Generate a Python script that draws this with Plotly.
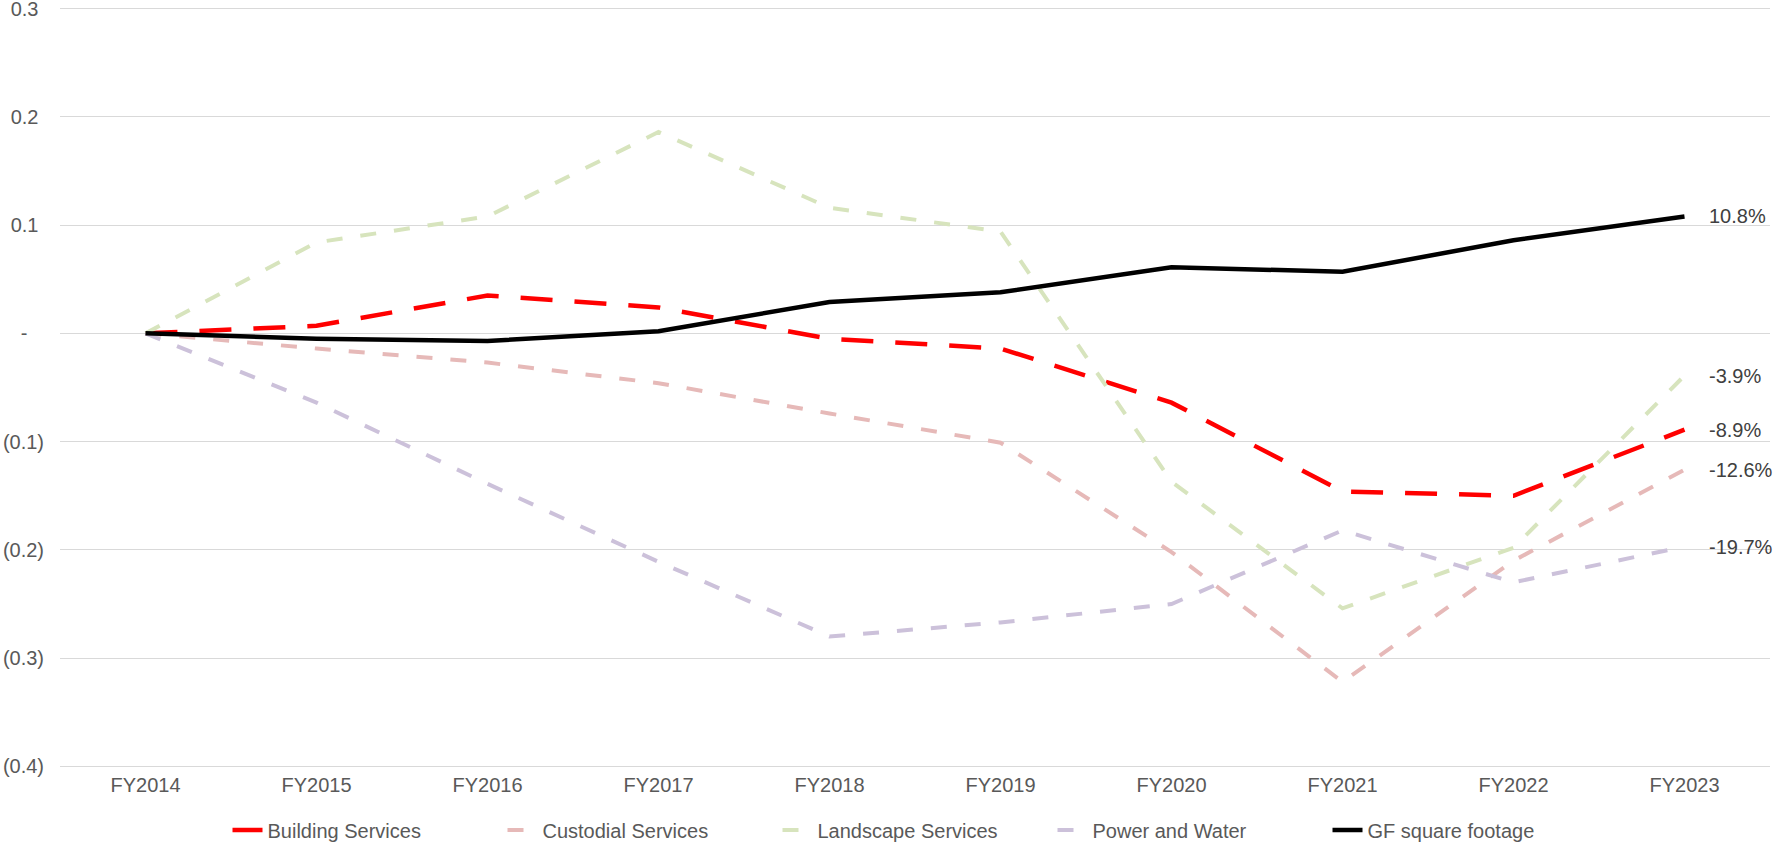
import plotly.graph_objects as go

years = ["FY2014", "FY2015", "FY2016", "FY2017", "FY2018",
         "FY2019", "FY2020", "FY2021", "FY2022", "FY2023"]

building = [0, 0.007, 0.035, 0.024, -0.005, -0.014, -0.064, -0.146, -0.150, -0.089]
custodial = [0, -0.014, -0.027, -0.046, -0.074, -0.101, -0.202, -0.322, -0.210, -0.126]
landscape = [0, 0.084, 0.108, 0.186, 0.116, 0.094, -0.137, -0.254, -0.198, -0.039]
power = [0, -0.064, -0.139, -0.211, -0.280, -0.267, -0.250, -0.182, -0.230, -0.197]
gf_sqft = [0, -0.005, -0.007, 0.002, 0.029, 0.038, 0.061, 0.057, 0.086, 0.108]

ytick_vals = [0.3, 0.2, 0.1, 0, -0.1, -0.2, -0.3, -0.4]
ytick_text = ["0.3", "0.2", "0.1", "-", "(0.1)", "(0.2)", "(0.3)", "(0.4)"]

series = [
    ("Building Services", building, "#FF0000", 4.5, "32px,22px"),
    ("Custodial Services", custodial, "#E6B9B8", 4, "16px,18px"),
    ("Landscape Services", landscape, "#D7E4BD", 4, "16px,18px"),
    ("Power and Water", power, "#CCC1DA", 4, "16px,18px"),
    ("GF square footage", gf_sqft, "#000000", 4.5, "solid"),
]

fig = go.Figure()
for name, vals, color, w, dash in series:
    fig.add_trace(go.Scatter(x=years, y=vals, name=name, mode="lines",
                             line=dict(color=color, width=w, dash=dash)))
    # end-of-line label
    fig.add_annotation(x=years[-1], y=vals[-1], text=f"{vals[-1]*100:.1f}%",
                       showarrow=False, xanchor="left", yanchor="middle",
                       xshift=22, font=dict(size=20, color="#404040"))

# accounting-style labels: pad the positive ones so they line up with ")"
pad = {"-": "-\u00a0\u00a0\u00a0"}
ytick_text = [pad.get(t, t if t.startswith("(") else t + "\u00a0") for t in ytick_text]

fig.update_layout(
    width=1776, height=844,
    margin=dict(l=60, r=6, t=7, b=76),
    plot_bgcolor="white", paper_bgcolor="white",
    font=dict(family="Liberation Sans, Arial", size=20, color="#595959"),
    legend=dict(orientation="h", x=0.5, xanchor="center",
                yref="container", y=0.0166, yanchor="middle",
                entrywidth=230, entrywidthmode="pixels",
                font=dict(size=20, color="#595959"), traceorder="normal"),
    showlegend=True,
)
fig.update_xaxes(type="category", range=[-0.5, 9.5], showgrid=False, showline=False,
                 ticks="", automargin=False, ticklabelstandoff=3,
                 tickfont=dict(size=20, color="#595959"))
fig.update_yaxes(range=[-0.4015, 0.3015], tickvals=ytick_vals, ticktext=ytick_text,
                 showgrid=True, gridcolor="#D9D9D9", gridwidth=1,
                 zeroline=True, zerolinecolor="#D9D9D9", zerolinewidth=1,
                 showline=False, ticks="", automargin=False, ticklabelstandoff=15,
                 ticklabeloverflow="allow",
                 tickfont=dict(size=20, color="#595959"))

# the page's default body margin would push the chart 8px off the window
fig.write_html("out.html", config={"displayModeBar": False},
               post_script="document.body.style.margin='0';")
